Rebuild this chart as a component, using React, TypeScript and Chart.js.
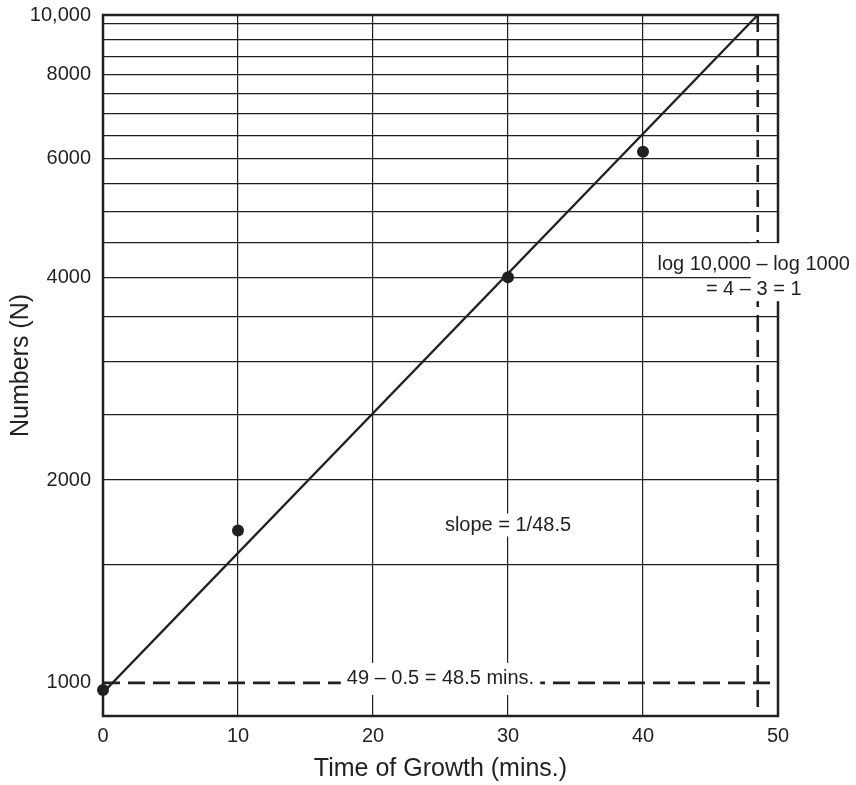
import React, { useEffect, useRef } from 'react';
import { Chart, registerables } from 'chart.js';

Chart.register(...registerables);

// ---- data ----
const sampleTimes = [0, 10, 30, 40];
const sampleCounts = [976, 1683, 4000, 6140];

const fitTimes = [0, 48.5];
const fitCounts = [967, 9800];

const xMin = 0;
const xMax = 50;
const xStep = 10;

const yMin = 893;
const yMax = 9800;
const yGridValues = [1000, 1500, 2000, 2500, 3000, 3500, 4000, 4500, 5000, 5500, 6000, 6500, 7000, 7500, 8000, 8500, 9000, 9500, 9800];
const yLabelValues = [1000, 2000, 4000, 6000, 8000, 9800];
const yLabelTexts = ['1000', '2000', '4000', '6000', '8000', '10,000'];

const refCount = 1000;      // horizontal dashed reference
const refTime = 48.5;       // vertical dashed reference

const noteInterval = ['49 – 0.5 = 48.5 mins.'];
const noteSlope = ['slope = 1/48.5'];
const noteLog = ['log 10,000 – log 1000', '= 4 – 3 = 1'];

const xTitle = 'Time of Growth (mins.)';
const yTitle = 'Numbers (N)';

// ---- style ----
const INK = '#231f20';
const FONT = '"Liberation Sans", Arial, Helvetica, sans-serif';

const annotationPlugin = {
  id: 'annotations',
  afterDatasetsDraw(chart: any) {
    const { ctx, chartArea: a, scales } = chart;
    const xs = scales.x;
    const ys = scales.y;
    ctx.save();
    // frame
    ctx.strokeStyle = INK;
    ctx.lineWidth = 2.5;
    ctx.strokeRect(a.left, a.top, a.right - a.left, a.bottom - a.top);

    ctx.font = `20px ${FONT}`;
    ctx.textAlign = 'center';
    ctx.textBaseline = 'middle';

    // interval note on the 1000 dashed line
    {
      const cx = xs.getPixelForValue(25);
      const cy = ys.getPixelForValue(refCount) - 4;
      const w = ctx.measureText(noteInterval[0]).width + 12;
      ctx.fillStyle = '#ffffff';
      ctx.fillRect(cx - w / 2, cy - 16, w, 32);
      ctx.fillStyle = INK;
      ctx.fillText(noteInterval[0], cx, cy);
    }
    // slope note
    {
      const cx = xs.getPixelForValue(30);
      const cy = ys.getPixelForValue(1715);
      const w = ctx.measureText(noteSlope[0]).width + 8;
      ctx.fillStyle = '#ffffff';
      ctx.fillRect(cx - w / 2, cy - 11.5, w, 23);
      ctx.fillStyle = INK;
      ctx.fillText(noteSlope[0], cx, cy);
    }
    // log note
    {
      const cx = xs.getPixelForValue(48.2);
      const cy = ys.getPixelForValue(4000);
      const left = xs.getPixelForValue(refTime) - 7;
      ctx.fillStyle = '#ffffff';
      ctx.fillRect(left, cy - 34, chart.width - left, 58);
      ctx.fillStyle = INK;
      ctx.fillText(noteLog[0], cx, cy - 12.5);
      ctx.fillText(noteLog[1], cx, cy + 12.5);
    }
    ctx.restore();
  },
};

export default function App() {
  const canvasRef = useRef<HTMLCanvasElement | null>(null);

  useEffect(() => {
    const canvas = canvasRef.current;
    if (!canvas) return;
    Chart.defaults.font.family = FONT;
    Chart.defaults.color = INK;

    const chart = new Chart(canvas, {
      type: 'scatter',
      data: {
        datasets: [
          {
            data: fitTimes.map((t, i) => ({ x: t, y: fitCounts[i] })),
            showLine: true,
            borderColor: INK,
            borderWidth: 2.3,
            pointRadius: 0,
            order: 3,
          },
          {
            data: [{ x: xMin, y: refCount }, { x: xMax, y: refCount }],
            showLine: true,
            borderColor: INK,
            borderWidth: 2.6,
            borderDash: [17, 8],
            pointRadius: 0,
            order: 2,
          },
          {
            data: [{ x: refTime, y: yMax }, { x: refTime, y: yMin }],
            showLine: true,
            borderColor: INK,
            borderWidth: 2.6,
            borderDash: [17, 8],
            pointRadius: 0,
            order: 2,
          },
          {
            data: sampleTimes.map((t, i) => ({ x: t, y: sampleCounts[i] })),
            showLine: false,
            pointRadius: 6,
            pointBackgroundColor: INK,
            pointBorderWidth: 0,
            clip: false,
            order: 1,
          },
        ] as any,
      },
      options: {
        responsive: false,
        animation: false,
        events: [],
        layout: { padding: { top: 15, right: 78, left: 0, bottom: 0 } },
        plugins: {
          legend: { display: false },
          tooltip: { enabled: false },
        },
        scales: {
          x: {
            type: 'linear',
            min: xMin,
            max: xMax,
            ticks: {
              stepSize: xStep,
              padding: 8,
              color: INK,
              font: { size: 20 },
            },
            grid: { color: INK, lineWidth: 1.2, drawTicks: false },
            border: { display: false },
            title: {
              display: true,
              text: xTitle,
              color: INK,
              font: { size: 25 },
              padding: { top: 0, bottom: 1 },
            },
            afterFit: (s: any) => { s.height = 69; s.paddingLeft = 0; s.paddingRight = 0; },
          },
          y: {
            type: 'logarithmic',
            min: yMin,
            max: yMax,
            afterBuildTicks: (s: any) => {
              s.ticks = yGridValues.map((v) => ({ value: v }));
            },
            ticks: {
              autoSkip: false,
              padding: 12,
              color: INK,
              font: { size: 20 },
              callback: (v: any) => {
                const i = yLabelValues.indexOf(Number(v));
                return i >= 0 ? yLabelTexts[i] : '';
              },
            },
            grid: {
              color: (c: any) => (c.tick && c.tick.value === refCount ? 'rgba(0,0,0,0)' : INK),
              lineWidth: 1.2,
              drawTicks: false,
            },
            border: { display: false },
            title: {
              display: true,
              text: yTitle,
              color: INK,
              font: { size: 25 },
              padding: { top: 6, bottom: 0 },
            },
            afterFit: (s: any) => { s.width = 103; s.paddingTop = 0; s.paddingBottom = 0; },
          },
        },
      } as any,
      plugins: [annotationPlugin],
    });
    return () => chart.destroy();
  }, []);

  return (
    <div style={{ position: 'absolute', left: 0, top: 0, width: 856, height: 785, background: '#fff' }}>
      <canvas ref={canvasRef} width={856} height={785} style={{ display: 'block' }} />
    </div>
  );
}
